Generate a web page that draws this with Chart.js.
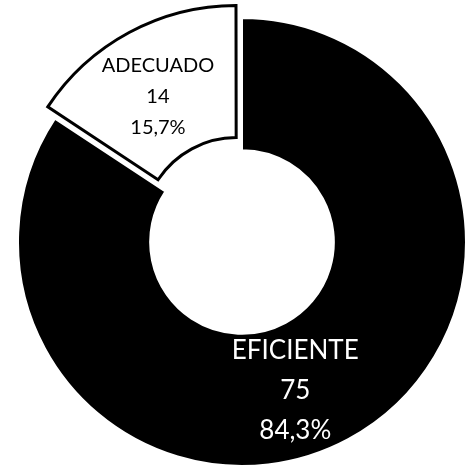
<!DOCTYPE html>
<html>
<head>
<meta charset="utf-8">
<script src="https://cdn.jsdelivr.net/npm/chart.js@4/dist/chart.umd.min.js"></script>
<style>
  body { margin: 0; background: #fff; }
</style>
</head>
<body>
<canvas id="chart" width="474" height="469"></canvas>
<script>
const categories = ["EFICIENTE", "ADECUADO"];
const counts = [75, 14];
const percents = ["84,3%", "15,7%"];

// draws the three-line labels (name, count, percent) on each slice
const sliceLabels = {
  id: "sliceLabels",
  afterDatasetsDraw(chart, args, opts) {
    const ctx = chart.ctx;
    const meta = chart.getDatasetMeta(0);
    meta.data.forEach((arc, i) => {
      const p = arc.getProps(["x", "y", "startAngle", "endAngle", "innerRadius", "outerRadius", "circumference"]);
      const off = (arc.options.offset || 0) / 4;
      const fix = 1 - Math.sin(Math.min(Math.PI, p.circumference || 0));
      const shift = off + off * fix;
      const mid = (p.startAngle + p.endAngle) / 2 + (opts.nudge[i] || 0);
      const r = (p.innerRadius + p.outerRadius) / 2 + shift + (opts.radial[i] || 0);
      const cx = p.x + Math.cos(mid) * r;
      const cy = p.y + Math.sin(mid) * r;
      const size = opts.sizes[i];
      const lh = opts.lineHeights[i];
      const lines = [categories[i], String(counts[i]), percents[i]];
      ctx.save();
      ctx.font = size + "px Lato, 'Open Sans', sans-serif";
      ctx.fillStyle = opts.colors[i];
      ctx.textAlign = "center";
      ctx.textBaseline = "middle";
      lines.forEach((t, k) => ctx.fillText(t, cx, cy + (k - 1) * lh));
      ctx.restore();
    });
  },
};

new Chart(document.getElementById("chart"), {
  type: "doughnut",
  data: {
    labels: categories,
    datasets: [
      {
        data: counts,
        backgroundColor: ["#000000", "#ffffff"],
        borderColor: ["#ffffff", "#000000"],
        borderWidth: [2, 3],
        borderJoinStyle: "miter",
        offset: [0, 48],
      },
    ],
  },
  options: {
    responsive: false,
    animation: false,
    radius: 224,
    cutout: "41%",
    layout: { padding: { left: 10, top: 15 } },
    plugins: {
      legend: { display: false },
      tooltip: { enabled: false },
      sliceLabels: {
        sizes: [26, 20],
        lineHeights: [40, 31],
        colors: ["#ffffff", "#000000"],
        nudge: [0.15, -0.03],
        radial: [0, -4],
      },
    },
  },
  plugins: [sliceLabels],
});
</script>
</body>
</html>
